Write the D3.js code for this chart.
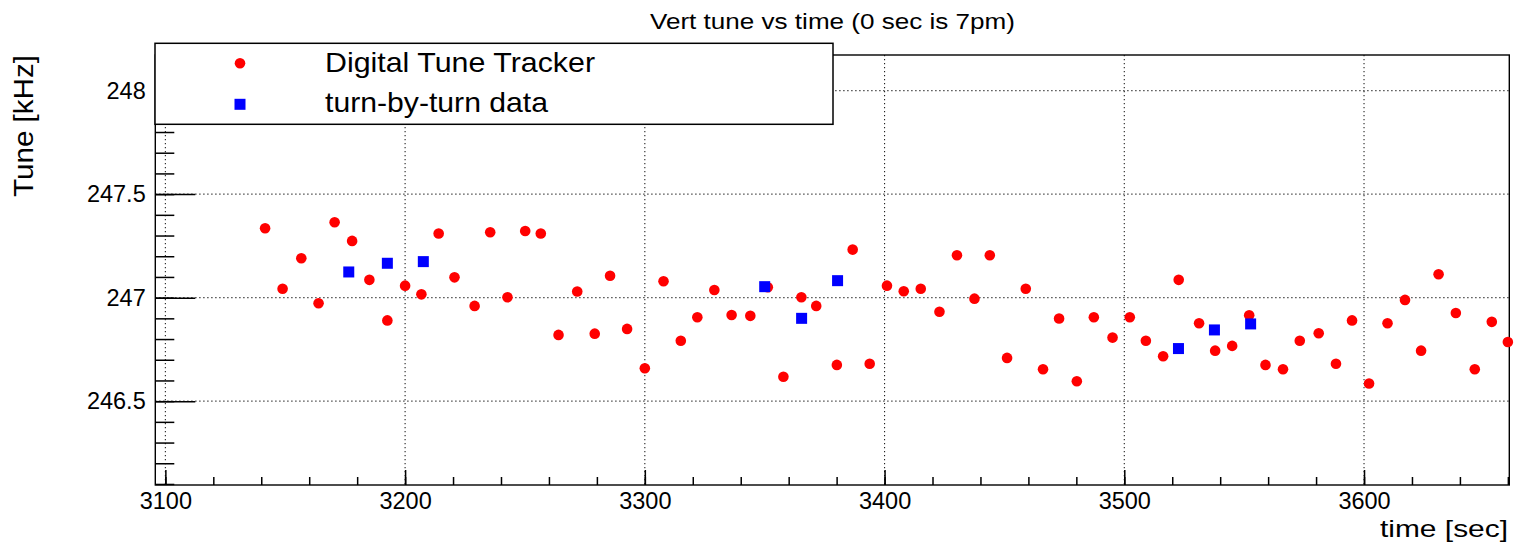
<!DOCTYPE html>
<html>
<head>
<meta charset="utf-8">
<script src="https://cdn.jsdelivr.net/npm/d3@7"></script>
<style>
  html, body { margin: 0; padding: 0; background: #fff; }
  svg { display: block; font-family: "Liberation Sans", Arial, Helvetica, sans-serif; }
</style>
</head>
<body>
<svg id="chart" width="1515" height="543"></svg>
<script>
// ---- data ----
const dttTime = [3141.6,3148.9,3156.7,3163.9,3170.6,3177.9,3185.1,3192.6,3200.0,3206.8,
  3214.0,3220.6,3229.0,3235.5,3242.7,3250.1,3256.6,3264.0,3271.8,3279.1,
  3285.5,3292.6,3300.0,3307.8,3315.0,3321.9,3329.0,3336.2,3344.0,3351.3,
  3357.8,3365.3,3371.5,3380.1,3386.7,3393.8,3401.0,3408.0,3415.1,3422.9,
  3430.2,3437.5,3443.9,3451.1,3458.9,3466.1,3472.8,3480.2,3487.3,3495.1,
  3502.3,3509.0,3516.2,3522.7,3531.2,3537.9,3545.0,3552.1,3558.9,3566.2,
  3573.2,3581.1,3588.3,3595.0,3602.1,3609.8,3617.1,3623.8,3631.1,3638.3,
  3646.2,3653.3,3660.0];
const dttTune = [247.335,247.043,247.190,246.973,247.364,247.274,247.086,246.890,247.058,247.016,
  247.310,247.098,246.960,247.316,247.002,247.322,247.310,246.820,247.030,246.826,
  247.106,246.849,246.659,247.079,246.792,246.905,247.037,246.916,246.912,247.050,
  246.618,247.002,246.960,246.675,247.232,246.681,247.058,247.031,247.043,246.932,
  247.205,246.995,247.205,246.709,247.043,246.654,246.899,246.596,246.905,246.807,
  246.905,246.792,246.717,247.086,246.876,246.744,246.767,246.915,246.675,246.654,
  246.792,246.828,246.681,246.890,246.585,246.876,246.989,246.744,247.113,246.926,
  246.654,246.883,246.786];
const tbtTime = [3176.5,3192.6,3207.6,3350.0,3365.4,3380.4,3522.6,3537.6,3552.7];
const tbtTune = [247.124,247.166,247.174,247.053,246.900,247.082,246.754,246.844,246.873];

const xMajorTicks = [3100,3200,3300,3400,3500,3600];
const yMajorTicks = [246.5,247,247.5,248];
const seriesNames = ["Digital Tune Tracker","turn-by-turn data"];
const titleText = "Vert tune vs time (0 sec is 7pm)";
const xLabel = "time [sec]";
const yLabel = "Tune [kHz]";

// ---- layout ----
const L = 155.3, R = 1509.3, T = 55, B = 485;
const svg = d3.select("#chart");
const x = d3.scaleLinear().domain([3095.8, 3660.6]).range([L, R]);
const y = d3.scaleLinear().domain([246.095, 248.172]).range([B, T]);

const xMinor = d3.range(3100, 3661, 20);
const yMinor = d3.range(2461, 2482, 1).map(v => v / 10);

// grid
const grid = svg.append("g").attr("stroke", "#222").attr("stroke-width", 1.1)
  .attr("stroke-dasharray", "1.2,2.8");
grid.selectAll("line.vx").data(xMajorTicks).join("line")
  .attr("x1", d => x(d)).attr("x2", d => x(d)).attr("y1", T).attr("y2", B);
grid.selectAll("line.hy").data(yMajorTicks).join("line")
  .attr("x1", L).attr("x2", R).attr("y1", d => y(d)).attr("y2", d => y(d));

// axes
const fs = 23.5;
const gx = svg.append("g").attr("transform", `translate(0,${B})`);
gx.call(d3.axisBottom(x).tickValues(xMinor).tickSize(-8).tickFormat(""));
const gx2 = svg.append("g").attr("transform", `translate(0,${B})`);
gx2.call(d3.axisBottom(x).tickValues(xMajorTicks).tickSize(-15).tickPadding(7).tickFormat(d3.format("d")));
const gy = svg.append("g").attr("transform", `translate(${L},0)`);
gy.call(d3.axisLeft(y).tickValues(yMinor).tickSize(-19).tickFormat(""));
const gy2 = svg.append("g").attr("transform", `translate(${L},0)`);
gy2.call(d3.axisLeft(y).tickValues(yMajorTicks).tickSize(-40).tickPadding(9.6).tickFormat(d => String(d)));

[gx, gx2, gy, gy2].forEach(g => {
  g.select(".domain").remove();
  g.selectAll(".tick line").attr("stroke", "#000").attr("stroke-width", 1.5);
  g.selectAll(".tick text").attr("fill", "#000").attr("font-size", fs)
    .attr("font-family", '"Liberation Sans", Arial, sans-serif');
});

// frame
svg.append("rect").attr("x", L).attr("y", T).attr("width", R - L).attr("height", B - T)
  .attr("fill", "none").attr("stroke", "#000").attr("stroke-width", 1.4);

// data
svg.append("g").selectAll("circle").data(dttTime).join("circle")
  .attr("cx", (d) => x(d)).attr("cy", (d, i) => y(dttTune[i])).attr("r", 5.3)
  .attr("fill", "#ff0000");
const sq = 11;
svg.append("g").selectAll("rect").data(tbtTime).join("rect")
  .attr("x", d => x(d) - sq / 2).attr("y", (d, i) => y(tbtTune[i]) - sq / 2)
  .attr("width", sq).attr("height", sq).attr("fill", "#0000ff");

// legend
const lg = svg.append("g");
lg.append("rect").attr("x", 155).attr("y", 43.3).attr("width", 833 - 155).attr("height", 124.3 - 43.3)
  .attr("fill", "#fff").attr("stroke", "#000").attr("stroke-width", 1.5);
lg.append("circle").attr("cx", 240).attr("cy", 63.3).attr("r", 5.3).attr("fill", "#ff0000");
lg.append("rect").attr("x", 240 - sq / 2).attr("y", 104.3 - sq / 2).attr("width", sq).attr("height", sq).attr("fill", "#0000ff");
lg.append("text").attr("x", 325).attr("y", 71.7).attr("font-size", 28).attr("textLength", 270)
  .attr("lengthAdjust", "spacingAndGlyphs").text(seriesNames[0]);
lg.append("text").attr("x", 325).attr("y", 111.7).attr("font-size", 28).attr("textLength", 223)
  .attr("lengthAdjust", "spacingAndGlyphs").text(seriesNames[1]);

// title & axis labels
svg.append("text").attr("x", 832.5).attr("y", 29.3).attr("text-anchor", "middle")
  .attr("font-size", 22.5).attr("textLength", 365).attr("lengthAdjust", "spacingAndGlyphs").text(titleText);
svg.append("text").attr("x", 1508).attr("y", 536.7).attr("text-anchor", "end")
  .attr("font-size", 24).attr("textLength", 128).attr("lengthAdjust", "spacingAndGlyphs").text(xLabel);
svg.append("text").attr("transform", "translate(33.3,55) rotate(-90)").attr("text-anchor", "end")
  .attr("font-size", 28).attr("textLength", 142).attr("lengthAdjust", "spacingAndGlyphs").text(yLabel);
</script>
</body>
</html>
